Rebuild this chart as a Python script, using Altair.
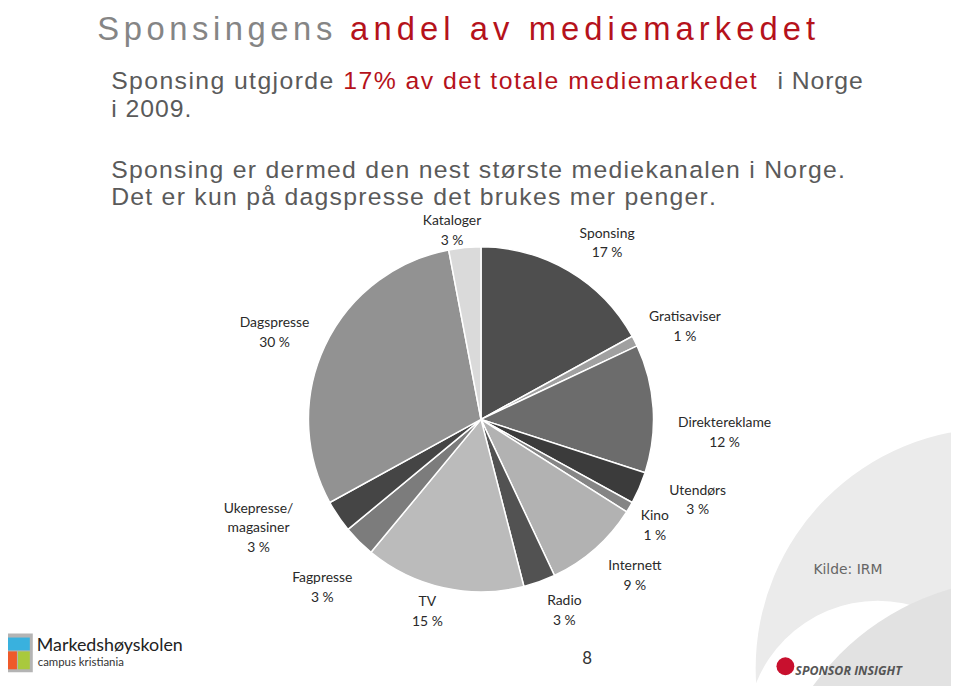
import math
import altair as alt
import pandas as pd

# ---------------- data ----------------
categories = ["Sponsing", "Gratisaviser", "Direktereklame", "Utendørs", "Kino",
              "Internett", "Radio", "TV", "Fagpresse", "Ukepresse/magasiner",
              "Dagspresse", "Kataloger"]
shares = [17, 1, 12, 3, 1, 9, 3, 15, 3, 3, 30, 3]
label_names = ["Sponsing", "Gratisaviser", "Direktereklame", "Utendørs", "Kino",
               "Internett", "Radio", "TV", "Fagpresse", "Ukepresse/\nmagasiner",
               "Dagspresse", "Kataloger"]

# ---------------- styles / placement ----------------
slice_colors = ["#4e4e4e", "#a0a0a0", "#6c6c6c", "#3b3b3b", "#858585", "#b2b2b2",
                "#525252", "#bbbbbb", "#7c7c7c", "#454545", "#929292", "#dadada"]
label_angle = [35.5, 65.5, 93, 110.3, 121.2, 135.4, 156.4, 195.6, 223.4, 244.3, 292.9, 351.3]
label_radius = [219, 226, 246, 233, 205, 221, 210, 201, 233, 249, 226, 193]

W, H = 943, 670
OFF = 8  # page margin
CX, CY, R = 477, 412, 174
LINE_H = 20

pie_df = pd.DataFrame({"category": categories, "share": shares, "idx": list(range(len(categories)))})

lab_text = [f"{n}\n{s} %" for n, s in zip(label_names, shares)]
lab_df = pd.DataFrame({
    "category": categories,
    "text": lab_text,
    "lx": [CX + r * math.sin(math.radians(a)) for a, r in zip(label_angle, label_radius)],
    "ly": [CY - r * math.cos(math.radians(a)) - (t.count("\n")) * 9
           for a, r, t in zip(label_angle, label_radius, lab_text)],
})

one = pd.DataFrame({"a": [0]})

# Arial / Liberation Sans advance widths (per 1000 em)
AW = {" ": 278, "%": 889, ".": 278, "/": 278, "ø": 611, "å": 556, "æ": 889}
AW.update({d: 556 for d in "0123456789"})
AW.update(dict(zip("ABCDEFGHIJKLMNOPQRSTUVWXYZ",
                   [667, 667, 722, 722, 667, 611, 778, 722, 278, 500, 667, 556, 833, 722, 778,
                    667, 778, 722, 667, 611, 722, 667, 944, 667, 667, 611])))
AW.update(dict(zip("abcdefghijklmnopqrstuvwxyz",
                   [556, 556, 500, 556, 556, 278, 556, 556, 222, 222, 500, 222, 833, 556, 556,
                    556, 556, 333, 500, 278, 556, 500, 722, 500, 500, 500])))


def disc(cx, cy, r, color):
    # Vega symbol size is the area of the bounding square: r = sqrt(size) / 2
    return alt.Chart(one).mark_point(shape="circle", filled=True, size=(2 * r) ** 2,
                                     color=color, opacity=1, strokeWidth=0).encode(
        x=alt.value(cx - OFF), y=alt.value(cy - OFF))


def spaced(t, x0, x1, base, size, color):
    """Tracked text: characters spread so the run spans x0..x1 (page px)."""
    widths = [AW.get(c, 556) * size / 1000 for c in t]
    track = (x1 - x0 - sum(widths)) / max(len(t) - 1, 1)
    xs, x = [], x0
    for w in widths:
        xs.append(x - OFF)
        x += w + track
    df = pd.DataFrame({"ch": list(t), "px": xs})
    return alt.Chart(df).mark_text(
        align="left", baseline="alphabetic", fontSize=size, color=color, font="Liberation Sans"
    ).encode(x=alt.X("px:Q", scale=None), y=alt.value(base - OFF), text="ch:N")


def txt(t, x, y, size, color, font="DejaVu Sans", align="left", weight="normal", style="normal"):
    return alt.Chart(pd.DataFrame({"t": [t]})).mark_text(
        align=align, baseline="alphabetic", fontSize=size, color=color, font=font,
        fontWeight=weight, fontStyle=style
    ).encode(x=alt.value(x - OFF), y=alt.value(y - OFF), text="t:N")


def box(x, y, x2, y2, color):
    return alt.Chart(one).mark_rect(fill=color).encode(
        x=alt.value(x - OFF), x2=alt.value(x2 - OFF), y=alt.value(y - OFF), y2=alt.value(y2 - OFF))


# background swoosh (page coordinates)
bg = [
    disc(1004, 671, 242, "#ebebeb"),
    disc(885, 735, 132, "#ffffff"),
    disc(1030, 840, 259, "#e2e2e2"),
]

pie = alt.Chart(pie_df).mark_arc(outerRadius=R, stroke="white", strokeWidth=1.5).encode(
    theta=alt.Theta("share:Q", stack=True),
    order=alt.Order("idx:Q"),
    color=alt.Color("category:N", scale=alt.Scale(domain=categories, range=slice_colors), legend=None),
    x=alt.value(CX), y=alt.value(CY),
)

labels = alt.Chart(lab_df).mark_text(
    font="Lato", fontSize=14, color="#2a2a2a", lineBreak="\n", lineHeight=LINE_H,
    align="center", baseline="middle"
).encode(
    x=alt.X("lx:Q", scale=None), y=alt.Y("ly:Q", scale=None), text="text:N"
)

GRAY = "#5a5a5a"
RED = "#b5121b"
texts = [
    spaced("Sponsingens", 98, 335, 37, 33, "#858585"),
    spaced("andel av mediemarkedet", 353, 822, 37, 33, RED),
    spaced("Sponsing utgjorde", 112, 336, 87, 25, GRAY),
    spaced("17% av det totale mediemarkedet", 346, 763, 87, 25, RED),
    spaced("i Norge", 784, 870, 87, 25, GRAY),
    spaced("i 2009.", 112, 193, 115, 25, GRAY),
    spaced("Sponsing er dermed den nest største mediekanalen i Norge.", 112, 852, 177, 25, GRAY),
    spaced("Det er kun på dagspresse det brukes mer penger.", 112, 722, 204, 25, GRAY),
    txt("Kilde: IRM", 855, 576, 14, "#666666", align="center"),
    txt("8", 592, 667, 17, "#333333", font="Lato", align="center"),
    txt("Markedshøyskolen", 37, 654, 18, "#222222", font="Lato"),
    txt("campus kristiania", 38, 669, 11.5, "#333333", font="Lato"),
    txt("SPONSOR INSIGHT", 802, 678, 12.5, "#555555", font="Open Sans", weight="bold", style="italic"),
]

logo = [
    box(3, 636, 33, 675, "#b4b4b4"),
    box(6, 640, 30, 653, "#39b1de"),
    box(6, 654, 17, 672, "#ef5a2a"),
    box(18, 654, 30, 672, "#a9c93d"),
    disc(792, 669, 9, "#c8102e"),
]

chart = alt.layer(*bg, pie, labels, *texts, *logo).properties(
    width=W, height=H, autosize="none",
    padding={"left": 0, "top": 0, "right": 8, "bottom": 8},
).configure_view(stroke=None)

chart.save("out.html", embed_options={"renderer": "svg", "actions": False})
